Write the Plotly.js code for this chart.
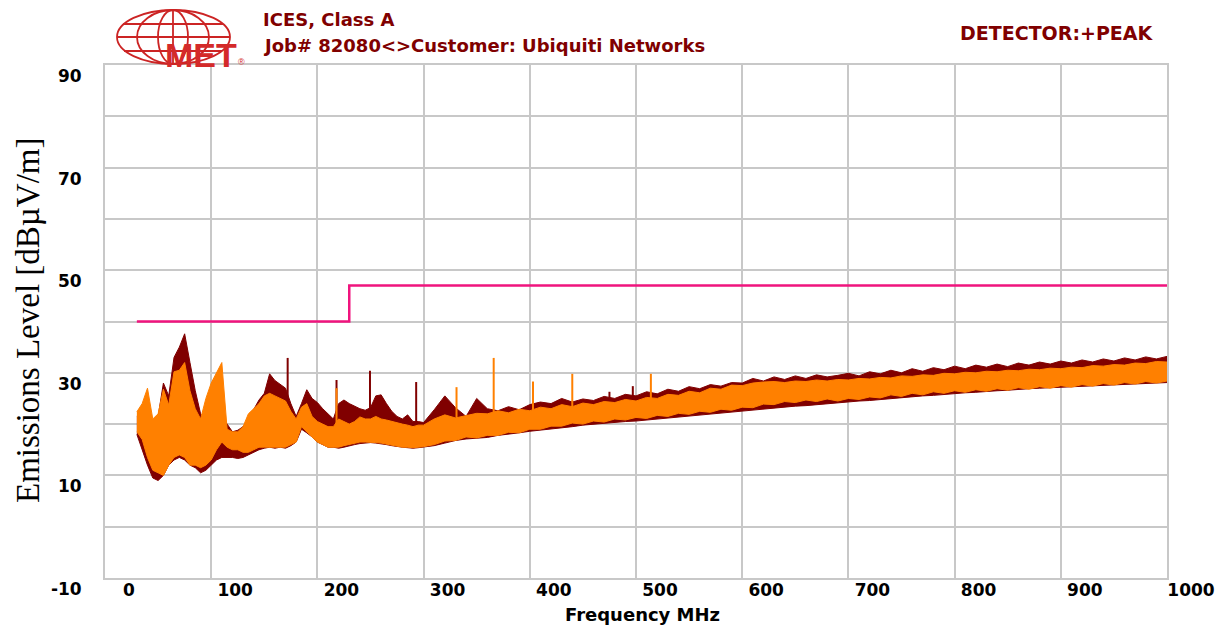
<!DOCTYPE html>
<html>
<head>
<meta charset="utf-8">
<script src="https://cdn.plot.ly/plotly-3.0.1.min.js"></script>
<style>
  html, body { margin: 0; padding: 0; background: #ffffff; }
  #chart { width: 1227px; height: 626px; }
</style>
</head>
<body>
<div id="chart"></div>
<script>
// ---------------- DATA ----------------
// Frequency grid in MHz
const freq = [
  30,35,40,45,50,55,60,65,70,75,80,85,90,95,100,105,110,115,120,125,
  130,135,140,145,150,155,160,165,170,175,180,185,190,195,200,205,210,215,220,225,
  230,235,240,245,250,255,260,265,270,275,280,285,290,295,300,
  310,320,330,340,350,360,370,380,390,400,410,420,430,440,450,460,470,480,490,500,
  510,520,530,540,550,560,570,580,590,600,610,620,630,640,650,660,670,680,690,700,
  710,720,730,740,750,760,770,780,790,800,810,820,830,840,850,860,870,880,890,900,
  910,920,930,940,950,960,970,980,990,1000
];

// Dark red trace (upper / lower envelope), dBµV/m
const darkHigh = [
  21.5,21.0,22.5,20.0,21.5,28.0,25.5,33.0,35.0,37.6,32.0,26.5,22.0,20.5,20.0,21.0,21.5,20.0,18.5,18.8,
  19.5,21.0,23.0,24.7,26.0,29.8,28.5,27.8,27.0,24.0,21.5,24.0,26.7,25.0,24.2,23.0,22.0,21.0,24.0,24.7,
  24.0,23.5,23.0,22.7,23.2,25.5,25.7,24.0,22.5,21.5,21.0,21.8,20.5,20.5,20.3,
  22.8,25.5,23.2,21.5,25.0,23.0,22.6,23.4,22.8,23.8,24.3,24.0,25.0,24.3,24.9,24.6,25.4,25.0,25.8,25.5,
  26.3,25.9,26.8,26.4,27.3,26.9,27.7,27.4,28.1,28.0,28.9,28.4,29.2,28.7,29.4,28.9,29.6,29.2,29.5,29.9,
  29.4,30.2,29.8,30.5,30.0,30.8,30.3,31.0,30.6,31.3,30.8,31.5,31.1,31.7,31.2,31.9,31.5,32.1,31.7,32.3,
  31.9,32.5,32.1,32.7,32.3,32.9,32.5,33.1,32.7,33.2
];
const darkLow = [
  18.0,15.0,12.0,9.5,9.0,10.0,12.0,13.0,13.5,13.0,12.0,11.5,10.5,11.0,12.0,13.0,13.5,13.5,13.5,13.3,
  13.5,14.0,14.5,15.0,15.3,15.5,15.3,15.5,15.3,15.8,16.5,19.0,18.3,17.5,16.5,16.0,15.5,15.5,15.3,15.5,
  15.8,16.0,16.2,16.3,16.4,16.3,16.2,16.0,15.8,15.6,15.5,15.4,15.3,15.4,15.5,
  15.8,16.3,16.8,17.1,17.3,17.4,17.8,18.0,18.3,18.6,18.8,19.0,19.3,19.5,19.8,20.0,20.1,20.3,20.5,20.6,
  20.8,21.0,21.2,21.4,21.6,21.8,22.0,22.2,22.4,22.6,22.8,23.0,23.1,23.3,23.5,23.6,23.8,24.0,24.1,24.3,
  24.5,24.6,24.8,25.0,25.1,25.3,25.5,25.6,25.8,26.0,26.1,26.2,26.4,26.5,26.6,26.8,26.9,27.0,27.1,27.2,
  27.3,27.4,27.5,27.6,27.7,27.8,27.9,28.0,28.0,28.1
];

// Orange trace (upper / lower envelope), dBµV/m
const orangeHigh = [
  22.4,24.0,27.0,21.0,22.0,26.8,23.7,30.2,30.5,32.0,26.5,23.0,21.0,25.0,28.0,30.0,32.0,19.0,18.5,18.5,
  19.5,22.0,23.0,24.0,25.5,26.0,25.5,25.0,24.5,22.5,21.0,23.3,24.0,21.5,20.5,20.0,19.5,19.5,21.0,20.5,
  20.0,20.5,21.4,21.0,21.0,21.5,21.0,20.8,20.5,20.2,20.0,19.8,19.5,19.8,19.8,
  21.0,21.8,21.2,21.6,22.1,22.0,22.6,22.2,22.9,22.6,23.3,23.0,23.8,23.4,24.1,23.8,24.4,24.2,24.8,24.5,
  25.2,25.0,25.8,25.6,26.4,26.1,27.0,26.8,27.6,27.5,28.0,28.2,28.3,28.1,28.4,28.3,28.6,28.4,28.7,28.6,
  28.9,28.8,29.1,29.0,29.4,29.3,29.6,29.5,29.9,29.8,30.1,30.0,30.3,30.2,30.5,30.4,30.7,30.6,30.9,30.8,
  31.1,31.0,31.4,31.3,31.6,31.5,31.9,31.8,32.2,32.1
];
const orangeLow = [
  18.5,17.0,13.5,11.0,10.5,10.0,12.0,13.5,14.0,13.5,12.0,12.0,11.5,12.0,13.0,15.0,16.5,15.5,15.0,15.0,
  14.5,14.5,15.0,15.5,15.5,15.5,15.5,15.5,15.5,16.0,16.5,19.5,18.5,17.5,16.5,16.0,15.5,15.5,15.5,15.8,
  16.0,16.3,16.5,16.5,16.5,16.4,16.3,16.1,16.0,15.8,15.5,15.5,15.4,15.5,15.6,
  16.0,16.7,16.8,17.5,17.3,17.8,17.8,18.4,18.3,19.0,19.0,19.6,19.6,20.2,20.0,20.6,20.4,21.0,20.8,21.3,
  21.1,21.7,21.5,22.1,21.9,22.5,22.3,22.9,22.7,23.3,23.2,23.9,23.8,24.4,24.2,24.7,24.4,24.9,24.5,25.0,
  24.8,25.3,25.1,25.7,25.4,26.0,25.7,26.3,26.0,26.5,26.2,26.7,26.4,26.9,26.6,27.1,26.8,27.3,27.0,27.5,
  27.2,27.7,27.4,27.9,27.6,28.1,27.8,28.3,28.0,28.4
];

// Narrow spikes (frequency MHz, peak level)
const darkSpikeFreq  = [172, 218, 249.5, 293, 475, 497];
const darkSpikeTop   = [32.9, 28.6, 30.4, 28.2, 26.3, 27.4];
const orangeSpikeFreq = [218, 331, 366, 403, 440, 514];
const orangeSpikeTop  = [27.0, 27.2, 32.9, 28.3, 29.8, 29.8];

// Limit line (CISPR Class A)
const limitFreq  = [30, 230, 230, 1000];
const limitLevel = [40, 40, 47, 47];

// Axis ticks
const xTickVals = [0,100,200,300,400,500,600,700,800,900,1000];
const xTickText = ['0','100','200','300','400','500','600','700','800','900','1000'];
const yTickVals = [-10,0,10,20,30,40,50,60,70,80,90];
const yTickText = ['-10','','10','','30','','50','','70','','90'];

// ---------------- BUILD ----------------
const DARK = '#800000';
const ORANGE = '#ff8000';

function interp(xs, ys, x) {
  for (let i = 0; i < xs.length - 1; i++) {
    if (x >= xs[i] && x <= xs[i + 1]) {
      const t = (x - xs[i]) / (xs[i + 1] - xs[i]);
      return ys[i] + t * (ys[i + 1] - ys[i]);
    }
  }
  return ys[ys.length - 1];
}
function spikeTrace(fs, tops, envX, envY, color) {
  const x = [], y = [];
  fs.forEach((f, i) => {
    x.push(f, f, null);
    y.push(interp(envX, envY, f) - 1, tops[i], null);
  });
  return { x, y, mode: 'lines', line: { color, width: 2 }, hoverinfo: 'skip', showlegend: false };
}

const traces = [
  { x: freq, y: darkLow, mode: 'lines', line: { color: DARK, width: 1 }, showlegend: false },
  { x: freq, y: darkHigh, mode: 'lines', line: { color: DARK, width: 1 }, fill: 'tonexty', fillcolor: DARK, showlegend: false },
  spikeTrace(darkSpikeFreq, darkSpikeTop, freq, darkHigh, DARK),
  { x: freq, y: orangeLow, mode: 'lines', line: { color: ORANGE, width: 1 }, showlegend: false },
  { x: freq, y: orangeHigh, mode: 'lines', line: { color: ORANGE, width: 1 }, fill: 'tonexty', fillcolor: ORANGE, showlegend: false },
  spikeTrace(orangeSpikeFreq, orangeSpikeTop, freq, orangeHigh, ORANGE),
  { x: limitFreq, y: limitLevel, mode: 'lines', line: { color: '#f0147e', width: 2.5 }, showlegend: false }
];

// pixel -> paper helpers for the decorative logo / header
const M = { l: 105, r: 60, t: 65, b: 48 };
const W = 1227, H = 626;
const PW = W - M.l - M.r, PH = H - M.t - M.b;
const px = v => (v - M.l) / PW;
const py = v => (H - M.b - v) / PH;

const LOGO = '#cc2424';
const logoLine = { color: LOGO, width: 1.8 };
const shapes = [
  { type: 'circle', xref: 'paper', yref: 'paper', x0: px(117), x1: px(230), y0: py(64), y1: py(10), line: logoLine },
  { type: 'circle', xref: 'paper', yref: 'paper', x0: px(137), x1: px(209), y0: py(64), y1: py(10), line: logoLine },
  { type: 'circle', xref: 'paper', yref: 'paper', x0: px(158), x1: px(188), y0: py(64), y1: py(10), line: logoLine },
  { type: 'line', xref: 'paper', yref: 'paper', x0: px(173), x1: px(173), y0: py(64), y1: py(10), line: logoLine },
  { type: 'line', xref: 'paper', yref: 'paper', x0: px(123), x1: px(223), y0: py(24), y1: py(24), line: logoLine },
  { type: 'line', xref: 'paper', yref: 'paper', x0: px(117), x1: px(230), y0: py(37), y1: py(37), line: logoLine },
  { type: 'line', xref: 'paper', yref: 'paper', x0: px(124), x1: px(222), y0: py(51), y1: py(51), line: logoLine }
];

const HEADFONT = 'DejaVu Sans, Verdana, sans-serif';
const titleFont = { family: HEADFONT, size: 18, color: '#800000' };
const annotations = [
  { xref: 'paper', yref: 'paper', x: px(201), y: py(55), xanchor: 'center', yanchor: 'middle', showarrow: false,
    text: '<b>MET</b>', font: { family: 'Liberation Sans, Arial, sans-serif', size: 34, color: '#d42a2a' } },
  { xref: 'paper', yref: 'paper', x: px(242), y: py(62), xanchor: 'center', yanchor: 'middle', showarrow: false,
    text: '®', font: { family: 'Liberation Sans, Arial, sans-serif', size: 9, color: '#d42a2a' } },
  { xref: 'paper', yref: 'paper', x: px(261), y: py(20), xanchor: 'left', yanchor: 'middle', showarrow: false,
    text: '<b>ICES, Class A</b>', font: titleFont },
  { xref: 'paper', yref: 'paper', x: px(261), y: py(45), xanchor: 'left', yanchor: 'middle', showarrow: false,
    text: '<b>Job# 82080&lt;&gt;Customer: Ubiquiti Networks</b>', font: titleFont },
  { xref: 'paper', yref: 'paper', x: px(1156), y: py(33), xanchor: 'right', yanchor: 'middle', showarrow: false,
    text: '<b>DETECTOR:+PEAK</b>', font: { family: HEADFONT, size: 19, color: '#800000' } },
  { xref: 'paper', yref: 'paper', x: px(642), y: py(614), xanchor: 'center', yanchor: 'middle', showarrow: false,
    text: '<b>Frequency MHz</b>', font: { family: HEADFONT, size: 18, color: '#000000' } },
  { xref: 'paper', yref: 'paper', x: px(28), y: py(321), xanchor: 'center', yanchor: 'middle', showarrow: false,
    textangle: -90, text: 'Emissions Level [dBµV/m]',
    font: { family: 'Liberation Serif, Times New Roman, serif', size: 33, color: '#000000' } }
];

const tickFont = { family: HEADFONT, size: 17, color: '#000000', weight: 'bold' };
const GRID = '#c8c8c8';

const layout = {
  width: W, height: H,
  margin: M,
  paper_bgcolor: '#ffffff', plot_bgcolor: '#ffffff',
  showlegend: false,
  xaxis: {
    range: [0, 1000], tickmode: 'array', tickvals: xTickVals, ticktext: xTickText,
    showgrid: true, gridcolor: GRID, gridwidth: 2, zeroline: false,
    showline: true, mirror: true, linecolor: GRID, linewidth: 2,
    ticks: '', tickfont: tickFont, ticklabelshift: 24, ticklabelstandoff: -4, fixedrange: true
  },
  yaxis: {
    range: [-10, 90], tickmode: 'array', tickvals: yTickVals, ticktext: yTickText,
    showgrid: true, gridcolor: GRID, gridwidth: 2, zeroline: false,
    showline: true, mirror: true, linecolor: GRID, linewidth: 2,
    ticks: '', tickfont: tickFont, ticklabelshift: 11, ticklabelstandoff: 18, fixedrange: true
  },
  shapes, annotations
};

Plotly.newPlot('chart', traces, layout, { displayModeBar: false, staticPlot: true });
</script>
</body>
</html>
